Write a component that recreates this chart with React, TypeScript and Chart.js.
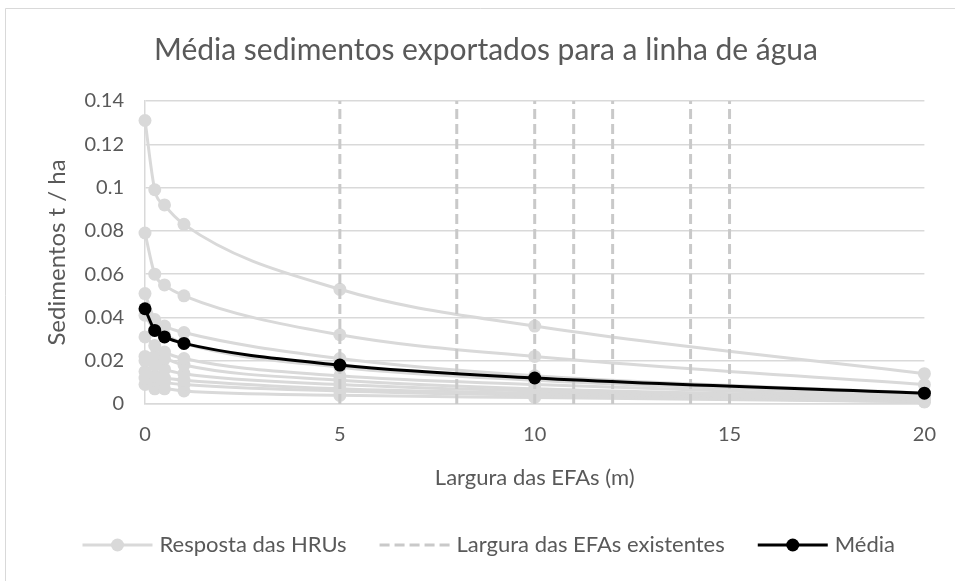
import React, { useEffect, useRef } from "react";
import { Chart, registerables } from "chart.js";

Chart.register(...registerables);

// ---- data ----
const efaWidthSteps = [0, 0.25, 0.5, 1, 5, 10, 20];
const hru1 = [0.131, 0.099, 0.092, 0.083, 0.053, 0.036, 0.014];
const hru2 = [0.079, 0.06, 0.055, 0.05, 0.032, 0.022, 0.009];
const hru3 = [0.051, 0.039, 0.036, 0.033, 0.021, 0.013, 0.005];
const hru4 = [0.041, 0.034, 0.032, 0.028, 0.017, 0.011, 0.004];
const hru5 = [0.031, 0.027, 0.024, 0.021, 0.013, 0.009, 0.003];
const hru6 = [0.022, 0.022, 0.021, 0.018, 0.011, 0.007, 0.003];
const hru7 = [0.02, 0.018, 0.016, 0.014, 0.009, 0.006, 0.002];
const hru8 = [0.015, 0.013, 0.012, 0.011, 0.007, 0.005, 0.002];
const hru9 = [0.012, 0.011, 0.01, 0.009, 0.006, 0.004, 0.001];
const hru10 = [0.009, 0.007, 0.007, 0.006, 0.004, 0.003, 0.001];
const hruSeries = [hru1, hru2, hru3, hru4, hru5, hru6, hru7, hru8, hru9, hru10];
const meanValues = [0.044, 0.034, 0.031, 0.028, 0.018, 0.012, 0.005];
const existingEfaWidths = [5, 8, 10, 11, 12, 14, 15];
const yRange = [0, 0.14];
const xRange = [0, 20];

const titleText = "Média sedimentos exportados para a linha de água";
const xTitleText = "Largura das EFAs (m)";
const yTitleText = "Sedimentos t / ha";
const legendLabels = ["Resposta das HRUs", "Largura das EFAs existentes", "Média"];

// ---- styles ----
const FONT = "Lato, 'Open Sans', sans-serif";
const TEXT = "#595959";
const GRAY = "#d9d9d9";
const DASH_GRAY = "#c9c9c9";

const decorPlugin = {
  id: "decor",
  beforeDraw(chart: any) {
    const ctx = chart.ctx;
    ctx.save();
    ctx.fillStyle = "#ffffff";
    ctx.fillRect(0, 0, chart.width, chart.height);
    ctx.strokeStyle = GRAY;
    ctx.lineWidth = 1;
    ctx.beginPath();
    ctx.moveTo(5.5, chart.height + 2);
    ctx.lineTo(5.5, 8.5);
    ctx.lineTo(chart.width + 2, 8.5);
    ctx.stroke();
    ctx.restore();
  },
  afterDraw(chart: any) {
    const ctx = chart.ctx;
    const area = chart.chartArea;
    ctx.save();
    ctx.fillStyle = TEXT;
    ctx.textAlign = "center";
    ctx.textBaseline = "middle";
    // title
    ctx.font = `30px ${FONT}`;
    ctx.fillText(titleText, 486, 50);
    // x title
    ctx.font = `22px ${FONT}`;
    ctx.fillText(xTitleText, (area.left + area.right) / 2, 478);
    // y title
    ctx.save();
    ctx.font = `24px ${FONT}`;
    ctx.translate(57, (area.top + area.bottom) / 2);
    ctx.rotate(-Math.PI / 2);
    ctx.fillText(yTitleText, 0, 0);
    ctx.restore();

    // legend
    ctx.font = `22px ${FONT}`;
    const symW = 70;
    const gap = 7;
    const itemGap = 33;
    const widths = legendLabels.map((l) => symW + gap + ctx.measureText(l).width);
    const total = widths.reduce((a, b) => a + b, 0) + itemGap * (legendLabels.length - 1);
    let x = 895 - total;
    const y = 545;
    legendLabels.forEach((label, i) => {
      ctx.save();
      ctx.lineCap = "butt";
      if (i === 0 || i === 2) {
        const col = i === 0 ? GRAY : "#000000";
        ctx.strokeStyle = col;
        ctx.lineWidth = 3;
        ctx.beginPath();
        ctx.moveTo(x, y);
        ctx.lineTo(x + symW, y);
        ctx.stroke();
        ctx.fillStyle = col;
        ctx.beginPath();
        ctx.arc(x + symW / 2, y, 6.5, 0, Math.PI * 2);
        ctx.fill();
      } else {
        ctx.strokeStyle = DASH_GRAY;
        ctx.lineWidth = 3;
        ctx.setLineDash([10, 5]);
        ctx.beginPath();
        ctx.moveTo(x, y);
        ctx.lineTo(x + symW, y);
        ctx.stroke();
      }
      ctx.restore();
      ctx.fillStyle = TEXT;
      ctx.textAlign = "left";
      ctx.fillText(label, x + symW + gap, y);
      x += widths[i] + itemGap;
    });
    ctx.restore();
  },
};

export default function App() {
  const canvasRef = useRef<HTMLCanvasElement | null>(null);

  useEffect(() => {
    if (!canvasRef.current) return;
    const hruDatasets = hruSeries.map((vals) => ({
      label: legendLabels[0],
      data: efaWidthSteps.map((x, i) => ({ x, y: vals[i] })),
      borderColor: GRAY,
      backgroundColor: GRAY,
      borderWidth: 3,
      pointRadius: 6.5,
      pointBorderWidth: 0,
      pointBackgroundColor: GRAY,
      cubicInterpolationMode: "monotone" as const,
      clip: false as const,
      order: 3,
    }));
    const efaDatasets = existingEfaWidths.map((w) => ({
      label: legendLabels[1],
      data: [
        { x: w, y: yRange[0] },
        { x: w, y: yRange[1] },
      ],
      borderColor: DASH_GRAY,
      borderWidth: 3,
      borderDash: [10, 5],
      pointRadius: 0,
      clip: false as const,
      order: 2,
    }));
    const meanDataset = {
      label: legendLabels[2],
      data: efaWidthSteps.map((x, i) => ({ x, y: meanValues[i] })),
      borderColor: "#000000",
      backgroundColor: "#000000",
      borderWidth: 3,
      pointRadius: 6.5,
      pointBorderWidth: 0,
      pointBackgroundColor: "#000000",
      cubicInterpolationMode: "monotone" as const,
      clip: false as const,
      order: 1,
    };

    const chart = new Chart(canvasRef.current, {
      type: "line",
      data: { datasets: [meanDataset, ...efaDatasets, ...hruDatasets] as any },
      options: {
        animation: false,
        responsive: true,
        maintainAspectRatio: false,
        layout: { padding: { left: 0, right: 30, top: 101, bottom: 0 } },
        plugins: {
          legend: { display: false },
          title: { display: false },
          tooltip: { enabled: false },
        },
        scales: {
          x: {
            type: "linear",
            min: xRange[0],
            max: xRange[1],
            ticks: {
              stepSize: 5,
              color: TEXT,
              font: { family: FONT, size: 20 },
              padding: 19,
            },
            grid: { display: false, drawTicks: false },
            border: { display: true, color: GRAY, width: 1.5 },
            afterFit: (scale: any) => {
              scale.height = 177;
            },
          },
          y: {
            type: "linear",
            min: yRange[0],
            max: yRange[1],
            ticks: {
              stepSize: 0.02,
              color: TEXT,
              font: { family: FONT, size: 20 },
              padding: 21,
              callback: (v: any) => String(parseFloat(Number(v).toFixed(2))),
            },
            grid: { color: GRAY, lineWidth: 1.5, drawTicks: false },
            border: { display: true, color: GRAY, width: 1.5 },
            afterFit: (scale: any) => {
              scale.width = 145;
            },
          },
        },
      },
      plugins: [decorPlugin],
    });
    return () => chart.destroy();
  }, []);

  return (
    <div style={{ position: "absolute", left: 0, top: 0, width: 955, height: 581, background: "#fff" }}>
      <canvas ref={canvasRef} />
    </div>
  );
}
